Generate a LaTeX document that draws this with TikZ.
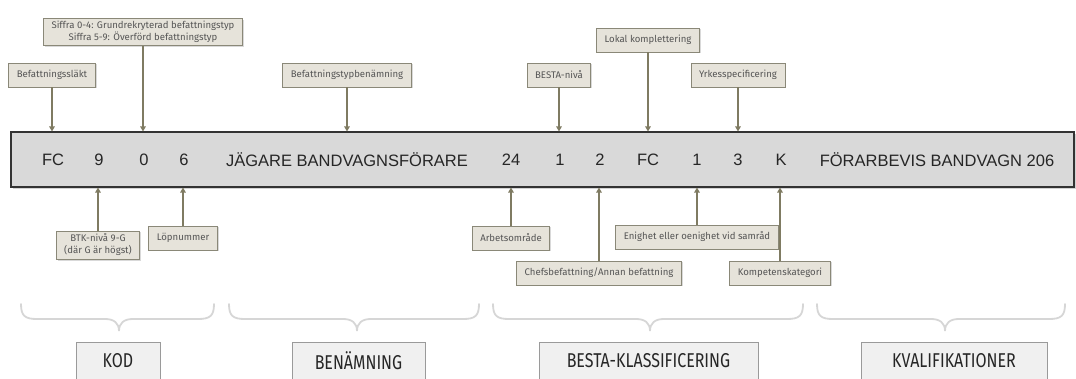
\documentclass[tikz,border=0pt]{standalone}
\usepackage{fontspec}
\setmainfont{Liberation Sans}
\newfontfamily\notefont{Fira Sans}
\newfontfamily\catfont[FakeStretch=0.8]{Fira Sans}
\usetikzlibrary{arrows.meta,shadows}

\definecolor{barfill}{HTML}{D9D9D9}
\definecolor{barline}{HTML}{333333}
\definecolor{notefill}{HTML}{E6E3DA}
\definecolor{noteline}{HTML}{8A8878}
\definecolor{notetext}{HTML}{555555}
\definecolor{pointer}{HTML}{7F7B62}
\definecolor{bracecol}{HTML}{D6D6D6}
\definecolor{catfill}{HTML}{F0F0F0}
\definecolor{catline}{HTML}{9A9A9A}

\tikzset{
  codebar/.style={draw=barline, fill=barfill, line width=1.1pt,
    minimum width=1063pt, minimum height=55pt, inner sep=0pt,
    drop shadow={shadow xshift=1.5pt, shadow yshift=-2pt, opacity=0.35}},
  codepart/.style={font=\fontsize{16.5}{18}\selectfont, text=black!85, inner sep=0pt},
  note/.style={draw=noteline, fill=notefill, line width=0.8pt,
    font=\notefont\fontsize{9.6}{12}\selectfont, text=notetext,
    minimum height=24pt, inner xsep=8pt, inner ysep=3pt, align=center,
    drop shadow={shadow xshift=1.5pt, shadow yshift=-1.5pt, opacity=0.3}},
  pointer/.style={draw=pointer, line width=1.6pt,
    -{Triangle[length=5pt,width=5.5pt]}},
  catbrace/.style={draw=bracecol, line width=1.8pt, line cap=round},
  category/.style={draw=catline, fill=catfill, line width=0.8pt,
    font=\catfont\fontsize{20}{22}\selectfont, text=black!85,
    minimum height=38pt, inner xsep=8pt}
}

\begin{document}
\begin{tikzpicture}[x=1pt,y=-1pt]
\useasboundingbox (0,0) rectangle (1076,379);

% the code bar
\node[codebar] (bar) at (542.5,159.5) {};
\node[codepart] (c1)  at (53,160)  {FC};
\node[codepart] (c2)  at (99,160)  {9};
\node[codepart] (c3)  at (144,160) {0};
\node[codepart] (c4)  at (184,160) {6};
\node[codepart] (c5)  at (347,160) {JÄGARE BANDVAGNSFÖRARE};
\node[codepart] (c6)  at (511,160) {24};
\node[codepart] (c7)  at (560,160) {1};
\node[codepart] (c8)  at (600,160) {2};
\node[codepart] (c9)  at (648,160) {FC};
\node[codepart] (c10) at (697,160) {1};
\node[codepart] (c11) at (738,160) {3};
\node[codepart] (c12) at (781,160) {K};
\node[codepart] (c13) at (937,160) {FÖRARBEVIS BANDVAGN 206};

% notes above the bar
\node[note] (n1) at (52,75)  {Befattningssläkt};
\node[note] (n2) at (143,32) {Siffra 0-4: Grundrekryterad befattningstyp\\Siffra 5-9: Överförd befattningstyp};
\node[note] (n3) at (347,75) {Befattningstypbenämning};
\node[note] (n4) at (559,75) {BESTA-nivå};
\node[note] (n5) at (648,40) {Lokal komplettering};
\node[note] (n6) at (738,75) {Yrkesspecificering};

% notes below the bar
\node[note] (m1) at (98,245)  {BTK-nivå 9-G\\(där G är högst)};
\node[note] (m2) at (183,238) {Löpnummer};
\node[note] (m3) at (511,238) {Arbetsområde};
\node[note] (m4) at (599,273) {Chefsbefattning/Annan befattning};
\node[note] (m5) at (697,237) {Enighet eller oenighet vid samråd};
\node[note] (m6) at (780,273) {Kompetenskategori};

% pointers
\foreach \n in {n1,n2,n3,n4,n5,n6}
  \draw[pointer] (\n.south) -- (\n.south |- bar.north);
\foreach \n in {m1,m2,m3,m4,m5,m6}
  \draw[pointer] (\n.north) -- (\n.north |- bar.south);

% grouping braces
\foreach \a/\b/\c in {21/214/119, 229/479/357, 493/803/650, 817/1065/945}{
  \draw[catbrace] (\a,304) .. controls (\a,316) and (\a+4,319) .. (\a+16,319)
    -- (\c-14,319) .. controls (\c-5,319) and (\c,323) .. (\c,331)
    .. controls (\c,323) and (\c+5,319) .. (\c+14,319)
    -- (\b-16,319) .. controls (\b-4,319) and (\b,316) .. (\b,304);
}

% category labels
\node[category, minimum width=84pt]  (k1) at (118,361) {KOD};
\node[category, minimum width=133pt] (k2) at (358.5,361) {BENÄMNING};
\node[category, minimum width=219pt] (k3) at (648.5,361) {BESTA-KLASSIFICERING};
\node[category, minimum width=186pt] (k4) at (954,361) {KVALIFIKATIONER};
\end{tikzpicture}
\end{document}
